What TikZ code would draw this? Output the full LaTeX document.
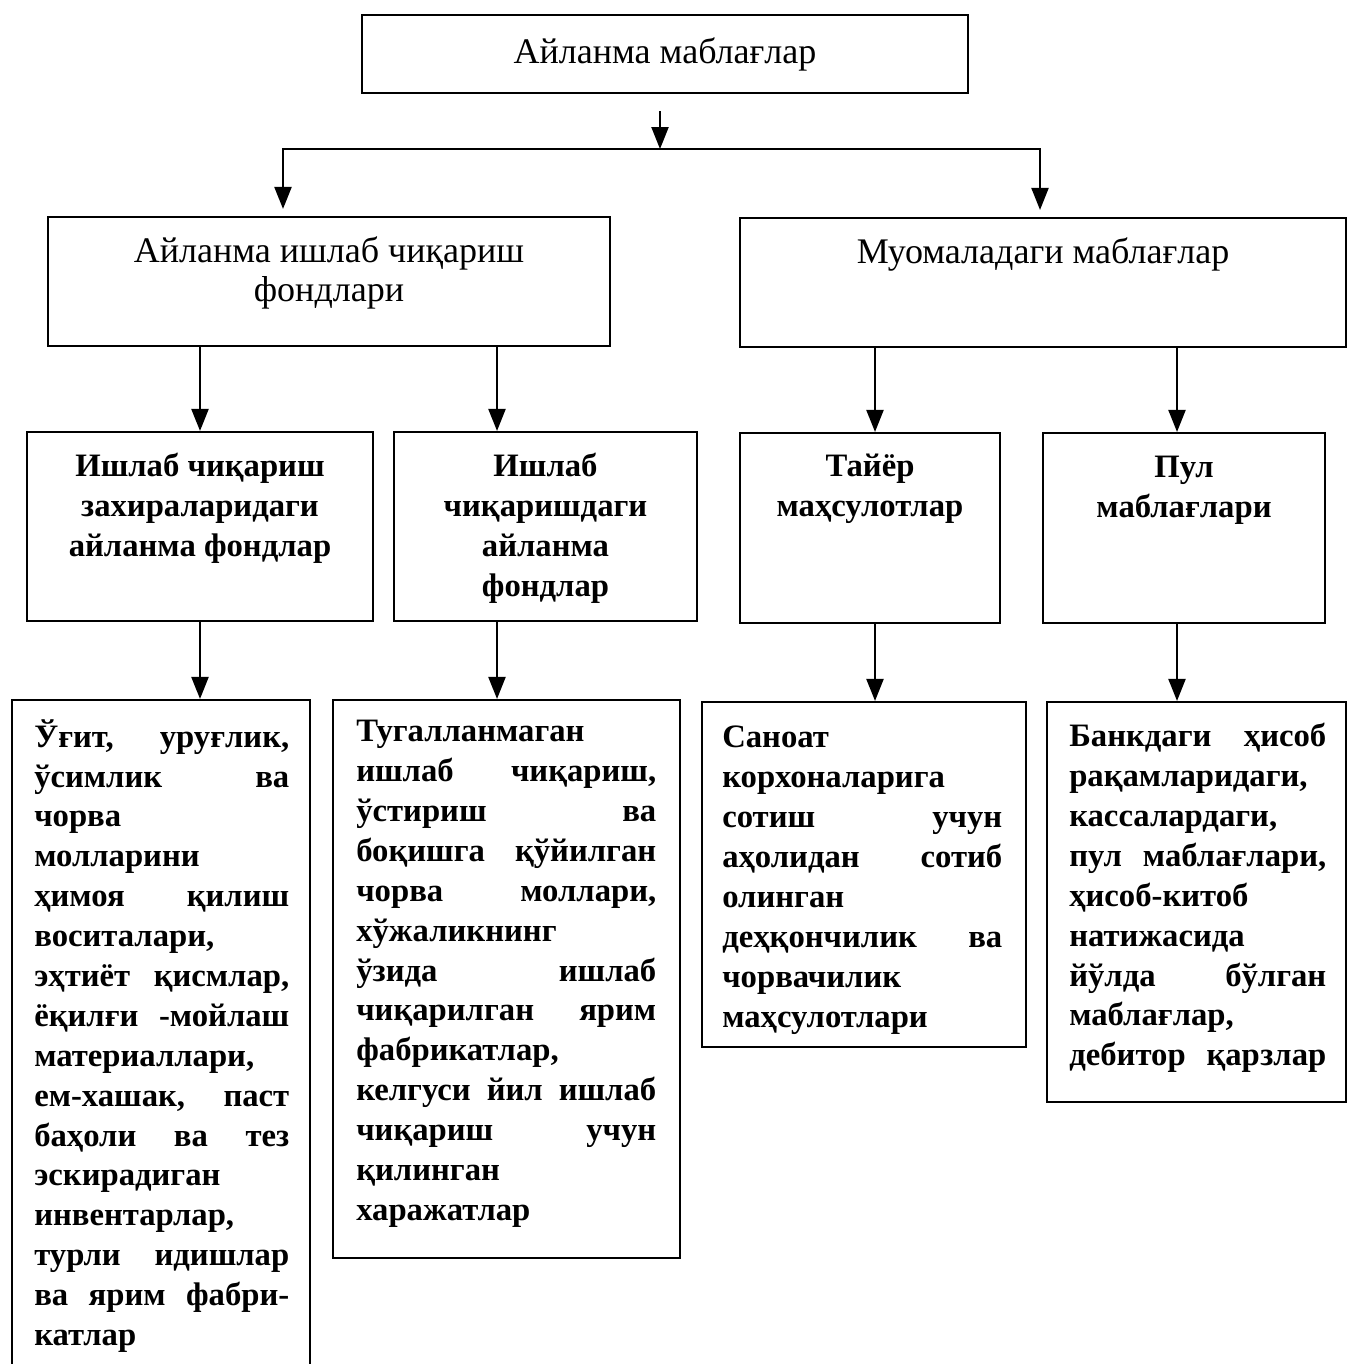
\documentclass[tikz,border=0pt]{standalone}
\usepackage{fontspec}
\setmainfont{Liberation Serif}
\usetikzlibrary{arrows.meta,calc}

\begin{document}
\begin{tikzpicture}[
		box/.style={draw, line width=1.2pt, inner sep=0pt},
		head/.style={inner sep=0pt, font=\fontsize{20.5}{22.7}\selectfont},
		txt/.style={inner sep=0pt, font=\fontsize{18.6}{22.7}\selectfont\bfseries},
		arr/.style={line width=1.2pt, -{Triangle[length=0.44cm,width=0.34cm]}}
	]
		\useasboundingbox (0,0) rectangle (26.98,-27.28);

		\node[box, head, minimum width=12.12cm, minimum height=1.56cm] (top) at (13.30,-1.08) {Айланма маблағлар};

		\node[box, minimum width=11.24cm, minimum height=2.58cm] (prodF) at (6.58,-5.63) {};
		\node[head, align=center, anchor=north] (prodT) at ([yshift=-0.40cm]prodF.north) {Айланма ишлаб чиқариш\\фондлари};
		\node[box, minimum width=12.12cm, minimum height=2.58cm] (circM) at (20.86,-5.65) {};
		\node[head, align=center, anchor=north] (circT) at ([yshift=-0.40cm]circM.north) {Муомаладаги маблағлар};

		\node[box, minimum width=6.92cm, minimum height=3.78cm] (stockF) at (4.00,-10.53) {};
		\node[txt, align=center, anchor=north] (stockT) at ([yshift=-0.44cm]stockF.north) {Ишлаб чиқариш\\захираларидаги\\айланма фондлар};
		\node[box, minimum width=6.06cm, minimum height=3.78cm] (wipF) at (10.91,-10.53) {};
		\node[txt, align=center, anchor=north] (wipT) at ([yshift=-0.44cm]wipF.north) {Ишлаб\\чиқаришдаги\\айланма\\фондлар};
		\node[box, minimum width=5.20cm, minimum height=3.80cm] (goods) at (17.40,-10.56) {};
		\node[txt, align=center, anchor=north] (goodsT) at ([yshift=-0.44cm]goods.north) {Тайёр\\маҳсулотлар};
		\node[box, minimum width=5.64cm, minimum height=3.80cm] (cash) at (23.68,-10.56) {};
		\node[txt, align=center, anchor=north] (cashT) at ([yshift=-0.48cm]cash.north) {Пул\\маблағлари};

		\node[box, minimum width=5.96cm, minimum height=14.00cm] (stockL) at (3.22,-21.00) {};
		\node[txt, text width=5.10cm, align=left, anchor=north west] (stockLT) at ([xshift=0.46cm,yshift=-0.40cm]stockL.north west) {Ўғит,\hfill уруғлик,\\
			ўсимлик\hfill ва\\
			чорва\\
			молларини\\
			ҳимоя\hfill қилиш\\
			воситалари,\\
			эҳтиёт\hfill қисмлар,\\
			ёқилғи\hfill -мойлаш\\
			материаллари,\\
			ем-хашак,\hfill паст\\
			баҳоли\hfill ва\hfill тез\\
			эскирадиган\\
			инвентарлар,\\
			турли\hfill идишлар\\
			ва\hfill ярим\hfill фабри-\\
			катлар};
		\node[box, minimum width=6.94cm, minimum height=11.16cm] (wipL) at (10.13,-19.58) {};
		\node[txt, text width=6.00cm, align=left, anchor=north west] (wipLT) at ([xshift=0.48cm,yshift=-0.42cm]wipL.north west) {Тугалланмаган\\
			ишлаб\hfill чиқариш,\\
			ўстириш\hfill ва\\
			боқишга\hfill қўйилган\\
			чорва\hfill моллари,\\
			хўжаликнинг\\
			ўзида\hfill ишлаб\\
			чиқарилган\hfill ярим\\
			фабрикатлар,\\
			келгуси\hfill йил\hfill ишлаб\\
			чиқариш\hfill учун\\
			қилинган\\
			харажатлар};
		\node[box, minimum width=6.48cm, minimum height=6.90cm] (goodsL) at (17.28,-17.49) {};
		\node[txt, text width=5.60cm, align=left, anchor=north west] (goodsLT) at ([xshift=0.42cm,yshift=-0.50cm]goodsL.north west) {Саноат\\
			корхоналарига\\
			сотиш\hfill учун\\
			аҳолидан\hfill сотиб\\
			олинган\\
			деҳқончилик\hfill ва\\
			чорвачилик\\
			маҳсулотлари};
		\node[box, minimum width=5.98cm, minimum height=8.00cm] (cashL) at (23.93,-18.04) {};
		\node[txt, text width=5.14cm, align=left, anchor=north west] (cashLT) at ([xshift=0.46cm,yshift=-0.44cm]cashL.north west) {Банкдаги\hfill ҳисоб\\
			рақамларидаги,\\
			кассалардаги,\\
			пул\hfill маблағлари,\\
			ҳисоб-китоб\\
			натижасида\\
			йўлда\hfill бўлган\\
			маблағлар,\\
			дебитор\hfill қарзлар};

		\coordinate (split) at ($(top.south)+(-0.10,-1.10)$);
		\coordinate (wipIn) at ([xshift=-0.97cm]wipF.north);
		\coordinate (goodsIn) at ([xshift=0.10cm]goods.north);
		\coordinate (cashIn) at ([xshift=-0.14cm]cash.north);

		\draw[arr, shorten <=0.34cm] (top.south -| split) -- (split);
		\draw[arr, shorten >=0.14cm] (split) -| ([xshift=-0.92cm]prodF.north);
		\draw[arr, shorten >=0.14cm] (split) -| ([xshift=-0.06cm]circM.north);

		\draw[arr] (prodF.south -| stockF.north) -- (stockF.north);
		\draw[arr] (prodF.south -| wipIn) -- (wipIn);
		\draw[arr] (circM.south -| goodsIn) -- (goodsIn);
		\draw[arr] (circM.south -| cashIn) -- (cashIn);

		\draw[arr] (stockF.south) -- (stockF.south |- stockL.north);
		\draw[arr] (wipF.south -| wipIn) -- (wipIn |- wipL.north);
		\draw[arr] (goods.south -| goodsIn) -- (goodsIn |- goodsL.north);
		\draw[arr] (cash.south -| cashIn) -- (cashIn |- cashL.north);
	\end{tikzpicture}
\end{document}
